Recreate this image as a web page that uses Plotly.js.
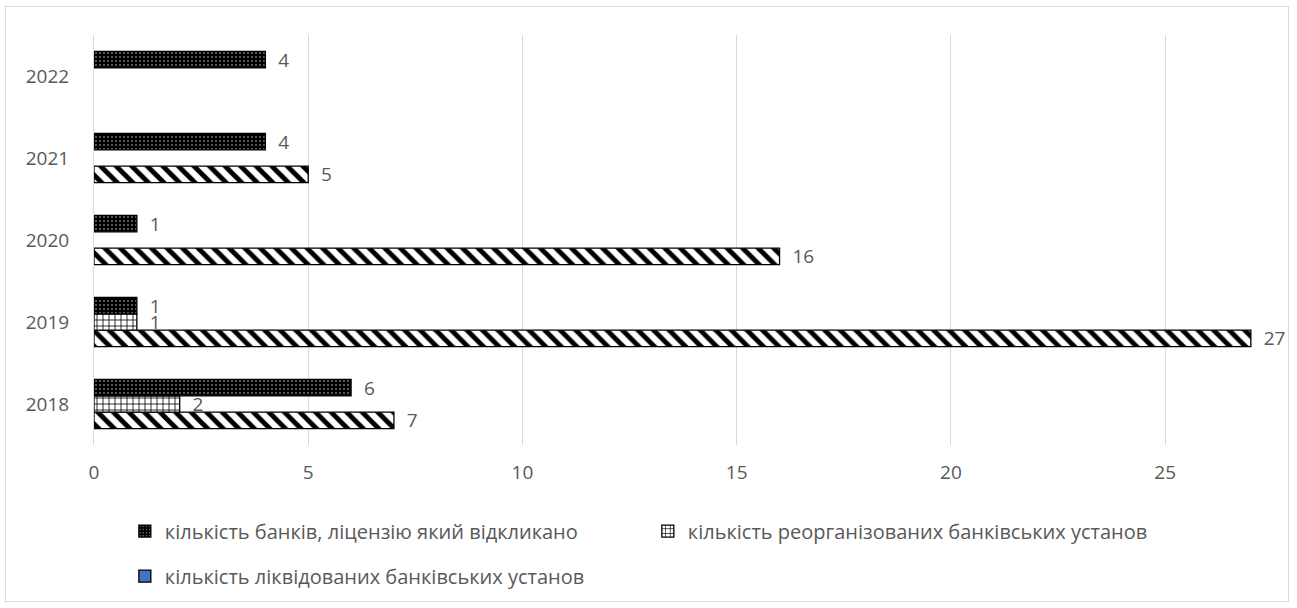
<!DOCTYPE html>
<html><head><meta charset="utf-8">
<script src="https://cdn.plot.ly/plotly-3.0.1.min.js"></script>
<style>
html,body{margin:0;padding:0;background:#fff;}
#frame{position:absolute;left:5px;top:6px;width:1284px;height:596px;border:1px solid #d9d9d9;box-sizing:border-box;}
#chart{position:absolute;left:0;top:0;width:1297px;height:608px;}
</style></head>
<body>
<div id="frame"></div>
<div id="chart"></div>
<script>
const years = ['2018','2019','2020','2021','2022'];
const revoked = [6, 1, 1, 4, 4];
const reorganized = [2, 1, null, null, null];
const liquidated = [7, 27, 16, 5, null];
const names = ['кількість банків, ліцензію який відкликано',
               'кількість реорганізованих банківських установ',
               'кількість ліквідованих банківських установ'];

const NB = '\u00a0\u00a0';
const labelFont = {family:'Open Sans, sans-serif', size:19, color:'#595959'};
function barTrace(vals, name, pattern, extra){
  return Object.assign({
    type:'bar', orientation:'h', y: years, x: vals, name: name,
    marker:{color:'#ffffff', line:{color:'#000', width:1.3}, pattern: pattern},
    text: vals.map(v => v == null ? '' : NB + v),
    textposition:'outside', textfont: labelFont, cliponaxis:false, constraintext:'none',
    hoverinfo:'x+name'
  }, extra||{});
}
const traces = [
  barTrace(liquidated, names[2], {shape:'\\', bgcolor:'#ffffff', fgcolor:'#000000', size:11, solidity:0.45, fillmode:'replace'}, {showlegend:false}),
  barTrace(reorganized, names[1], {shape:'+', bgcolor:'#ffffff', fgcolor:'#000000', size:6, solidity:0.25, fillmode:'replace'}, {legend:'legend', legendrank:2}),
  barTrace(revoked, names[0], {shape:'.', bgcolor:'#000000', fgcolor:'#ffffff', size:4, solidity:0.08, fillmode:'replace'}, {legend:'legend', legendrank:1}),
  {type:'bar', orientation:'h', y:[null], x:[null], name:names[2], xaxis:'x2', yaxis:'y2',
   marker:{color:'#4472c4', line:{color:'#000', width:1.3}}, legend:'legend2', showlegend:true, hoverinfo:'skip'}
];

const layout = {
  width:1297, height:608,
  margin:{l:94, r:17, t:35, b:161},
  paper_bgcolor:'rgba(0,0,0,0)', plot_bgcolor:'rgba(0,0,0,0)',
  font:{family:'Open Sans, sans-serif', size:19, color:'#595959'},
  barmode:'group', bargap:0.4, bargroupgap:0,
  xaxis:{range:[0, 27.68], tick0:0, dtick:5, showgrid:true, gridcolor:'#d9d9d9', gridwidth:1,
         zeroline:false, showline:false, ticks:'', ticklabelstandoff:14, tickfont:{size:19, color:'#595959'}, fixedrange:true},
  yaxis:{type:'category', categoryorder:'array', categoryarray:years, range:[-0.5,4.5],
         showgrid:false, zeroline:false, showline:true, linecolor:'#d9d9d9', linewidth:1,
         ticks:'', ticklabelstandoff:20, tickfont:{size:19, color:'#595959'}},
  xaxis2:{visible:false, overlaying:'x', range:[0,1]},
  yaxis2:{visible:false, overlaying:'y', range:[0,1]},
  legend:{orientation:'h', x:0.026, xanchor:'left', y:-0.21, yanchor:'middle', entrywidth:478,
          font:{size:20, color:'#595959'}, itemwidth:30, bgcolor:'rgba(0,0,0,0)'},
  legend2:{orientation:'h', x:0.026, xanchor:'left', y:-0.32, yanchor:'middle',
          font:{size:20, color:'#595959'}, itemwidth:30, bgcolor:'rgba(0,0,0,0)'},
  showlegend:true
};
Plotly.newPlot('chart', traces, layout, {displayModeBar:false, staticPlot:true});
</script>
</body></html>
